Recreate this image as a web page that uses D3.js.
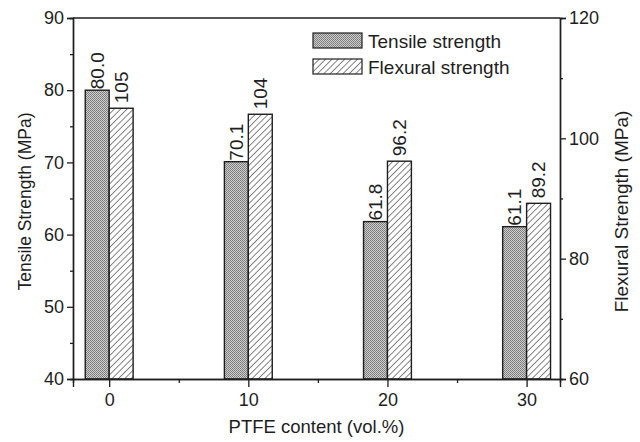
<!DOCTYPE html>
<html>
<head>
<meta charset="utf-8">
<script src="https://cdn.jsdelivr.net/npm/d3@7"></script>
<style>
  body { margin: 0; background: #fff; }
  svg { font-family: "Liberation Sans", Arial, sans-serif; }
</style>
</head>
<body>
<svg width="640" height="442"></svg>
<script>
// data
const ptfe = [0, 10, 20, 30];
const tensile = [80.0, 70.1, 61.8, 61.1];
const flexural = [105, 104, 96.2, 89.2];
const tensileLabels = ["80.0", "70.1", "61.8", "61.1"];
const flexuralLabels = ["105", "104", "96.2", "89.2"];
const leftTicks = [40, 50, 60, 70, 80, 90];
const rightTicks = [60, 80, 100, 120];
const xTicks = [0, 10, 20, 30];

const svg = d3.select("svg");
const margin = { left: 73, right: 80, top: 18, bottom: 63 };
const W = 640, H = 442;
const ink = "#1e1e1e";

const x = d3.scaleLinear().domain([-2.6, 32.4]).range([margin.left, W - margin.right]);
const yL = d3.scaleLinear().domain([40, 90]).range([H - margin.bottom, margin.top]);
const yR = d3.scaleLinear().domain([60, 120]).range([H - margin.bottom, margin.top]);
const barW = x(1.72) - x(0);

// patterns
const defs = svg.append("defs");
const cross = defs.append("pattern").attr("id", "cross")
  .attr("patternUnits", "userSpaceOnUse").attr("width", 2).attr("height", 2);
cross.append("rect").attr("width", 2).attr("height", 2).attr("fill", "#cdcdcd");
cross.append("rect").attr("width", 1).attr("height", 1).attr("fill", "#7a7a7a");
cross.append("rect").attr("x", 1).attr("y", 1).attr("width", 1).attr("height", 1).attr("fill", "#858585");

const hatch = defs.append("pattern").attr("id", "hatch")
  .attr("patternUnits", "userSpaceOnUse").attr("width", 4.5).attr("height", 4.5)
  .attr("patternTransform", "rotate(45)");
hatch.append("rect").attr("width", 4.5).attr("height", 4.5).attr("fill", "#fff");
hatch.append("line").attr("x1", 0).attr("y1", 0).attr("x2", 0).attr("y2", 4.5)
  .attr("stroke", "#222").attr("stroke-width", 1.1);

// bars
const g = svg.append("g");
g.selectAll("rect.t").data(ptfe).enter().append("rect")
  .attr("class", "t")
  .attr("x", (d) => x(d) - barW)
  .attr("y", (d, i) => yL(tensile[i]))
  .attr("width", barW)
  .attr("height", (d, i) => yL(40) - yL(tensile[i]))
  .attr("fill", "url(#cross)").attr("stroke", ink).attr("stroke-width", 1.4);

g.selectAll("rect.f").data(ptfe).enter().append("rect")
  .attr("class", "f")
  .attr("x", (d) => x(d))
  .attr("y", (d, i) => yR(flexural[i]))
  .attr("width", barW)
  .attr("height", (d, i) => yR(60) - yR(flexural[i]))
  .attr("fill", "url(#hatch)").attr("stroke", ink).attr("stroke-width", 1.4);

// value labels (rotated)
g.selectAll("text.tl").data(ptfe).enter().append("text")
  .attr("transform", (d, i) => `translate(${x(d) - barW / 2 + 6.5},${yL(tensile[i]) - 1}) rotate(-90)`)
  .attr("font-size", 19).attr("fill", ink)
  .text((d, i) => tensileLabels[i]);
g.selectAll("text.fl").data(ptfe).enter().append("text")
  .attr("transform", (d, i) => `translate(${x(d) + barW / 2 + 6.5},${yR(flexural[i]) - 5}) rotate(-90)`)
  .attr("font-size", 19).attr("fill", ink)
  .text((d, i) => flexuralLabels[i]);

// frame top
svg.append("line").attr("x1", x.range()[0]).attr("x2", x.range()[1])
  .attr("y1", margin.top).attr("y2", margin.top).attr("stroke", ink).attr("stroke-width", 1.4);

// axes
const axL = svg.append("g").attr("transform", `translate(${margin.left},0)`)
  .call(d3.axisLeft(yL).tickValues(leftTicks).tickSize(6).tickPadding(3).tickFormat(d3.format("d")));
const axLm = svg.append("g").attr("transform", `translate(${margin.left},0)`)
  .call(d3.axisLeft(yL).tickValues([45, 55, 65, 75, 85]).tickSize(3).tickFormat(""));
const axR = svg.append("g").attr("transform", `translate(${W - margin.right},0)`)
  .call(d3.axisRight(yR).tickValues(rightTicks).tickSize(6).tickPadding(3).tickFormat(d3.format("d")));
const axRm = svg.append("g").attr("transform", `translate(${W - margin.right},0)`)
  .call(d3.axisRight(yR).tickValues([70, 90, 110]).tickSize(3).tickFormat(""));
const axB = svg.append("g").attr("transform", `translate(0,${H - margin.bottom})`)
  .call(d3.axisBottom(x).tickValues(xTicks).tickSize(8).tickPadding(6).tickFormat(d3.format("d")));
const axBm = svg.append("g").attr("transform", `translate(0,${H - margin.bottom})`)
  .call(d3.axisBottom(x).tickValues([5, 15, 25]).tickSize(4).tickFormat(""));

[axL, axLm, axR, axRm, axB, axBm].forEach((a) => {
  a.selectAll("path.domain").attr("stroke", ink).attr("stroke-width", 1.4);
  a.selectAll("line").attr("stroke", ink).attr("stroke-width", 1.3);
  a.selectAll("text").attr("font-size", 18).attr("fill", ink)
    .attr("font-family", "Liberation Sans, Arial, sans-serif");
});

// axis titles
const midY = (margin.top + H - margin.bottom) / 2;
svg.append("text")
  .attr("transform", `translate(31,${midY + 3}) rotate(-90)`)
  .attr("text-anchor", "middle").attr("font-size", 17.5).attr("fill", ink)
  .text("Tensile Strength (MPa)");
svg.append("text")
  .attr("transform", `translate(628,${midY + 13}) rotate(-90)`)
  .attr("text-anchor", "middle").attr("font-size", 19).attr("fill", ink)
  .text("Flexural Strength (MPa)");
svg.append("text")
  .attr("x", (x.range()[0] + x.range()[1]) / 2).attr("y", 433)
  .attr("text-anchor", "middle").attr("font-size", 18.5).attr("fill", ink)
  .text("PTFE content (vol.%)");

// legend
const legend = svg.append("g").attr("transform", "translate(313,33)");
const legendItems = [
  { label: "Tensile strength", fill: "url(#cross)" },
  { label: "Flexural strength", fill: "url(#hatch)" }
];
legend.selectAll("rect").data(legendItems).enter().append("rect")
  .attr("x", 0).attr("y", (d, i) => i * 26)
  .attr("width", 49).attr("height", 15)
  .attr("fill", (d) => d.fill).attr("stroke", ink).attr("stroke-width", 1.2);
legend.selectAll("text").data(legendItems).enter().append("text")
  .attr("x", 55).attr("y", (d, i) => i * 26 + 15)
  .attr("font-size", 19).attr("fill", ink)
  .text((d) => d.label);
</script>
</body>
</html>
